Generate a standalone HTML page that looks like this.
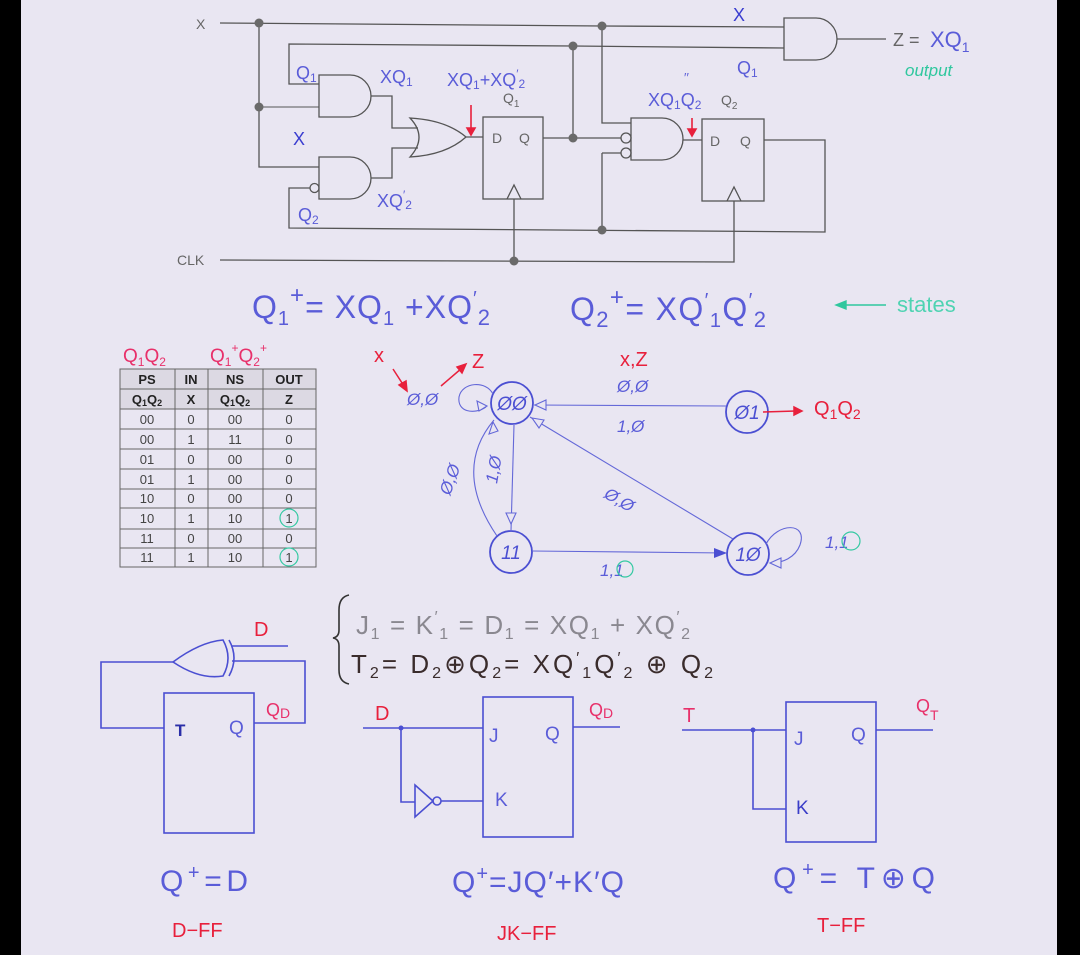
<!DOCTYPE html>
<html><head><meta charset="utf-8"><style>
html,body{margin:0;padding:0;background:#000;}
svg{display:block;}
text{font-family:"Liberation Sans",sans-serif;}
</style></head><body>
<svg width="1080" height="955" viewBox="0 0 1080 955" xmlns="http://www.w3.org/2000/svg">
<rect x="0" y="0" width="1080" height="955" fill="#000"/>
<rect x="21" y="0" width="1036" height="955" fill="#e9e6f2"/>

<!-- ===== TOP CIRCUIT ===== -->
<g fill="none" stroke="#555" stroke-width="1.3">
  <path d="M220 23 L602 26 L784 27"/>
  <path d="M259 23 V167 H319"/>
  <path d="M259 107 H319" stroke-width="0.9"/>
  <path d="M319 84 H289 V44 L573 46 L784 48"/>
  <path d="M319 75 H350 A21 21 0 0 1 350 117 H319 Z"/>
  <path d="M371 96 H392 V128 H418"/>
  <path d="M410 118 Q428 137 410 157 Q446 155 466 137 Q446 120 410 118 Z"/>
  <path d="M466 137 H483"/>
  <path d="M319 157 H350 A21 21 0 0 1 350 199 H319 Z"/>
  <circle cx="314.5" cy="188" r="4.5"/>
  <path d="M371 178 H392 V148 H418"/>
  <path d="M310 188 H289 V228 L825 232 V140 H764"/>
  <rect x="483" y="117" width="60" height="82"/>
  <path d="M507 199 L514 185 L521 199"/>
  <path d="M514 199 V261"/>
  <path d="M220 260 L734 262 V201"/>
  <path d="M543 138 H621"/>
  <path d="M573 46 V138"/>
  <path d="M602 26 V123 H631"/>
  <path d="M602 153 H621 M602 153 V230"/>
  <path d="M631 118 H662 A21 21 0 0 1 662 160 H631 Z"/>
  <circle cx="626" cy="138" r="5"/>
  <circle cx="626" cy="153" r="5"/>
  <path d="M683 140 H702"/>
  <rect x="702" y="119" width="62" height="82"/>
  <path d="M727 201 L734 187 L741 201"/>
  <path d="M784 18 H816 A21 21 0 0 1 816 60 H784 Z"/>
  <path d="M837 39 H886"/>
</g>
<g fill="#6a6a6a">
  <circle cx="259" cy="23" r="4.5"/>
  <circle cx="259" cy="107" r="4.5"/>
  <circle cx="602" cy="26" r="4.5"/>
  <circle cx="573" cy="46" r="4.5"/>
  <circle cx="573" cy="138" r="4.5"/>
  <circle cx="602" cy="230" r="4.5"/>
  <circle cx="514" cy="261" r="4.5"/>
</g>
<g fill="#666" font-size="14">
  <text x="196" y="29">X</text>
  <text x="177" y="265">CLK</text>
  <text x="492" y="143">D</text>
  <text x="519" y="143">Q</text>
  <text x="503" y="103">Q<tspan font-size="10" dy="4">1</tspan></text>
  <text x="710" y="146">D</text>
  <text x="740" y="146">Q</text>
  <text x="721" y="105">Q<tspan font-size="10" dy="4">2</tspan></text>
  <text x="893" y="46" font-size="18">Z =</text>
</g>
<g fill="#5a5cd8" font-size="18">
  <text x="296" y="79">Q<tspan font-size="12" dy="3">1</tspan></text>
  <text x="380" y="83">XQ<tspan font-size="12" dy="3">1</tspan></text>
  <text x="447" y="86">XQ<tspan font-size="12" dy="3">1</tspan><tspan dy="-3">+XQ</tspan><tspan font-size="12" dy="-8">′</tspan><tspan font-size="12" dy="10">2</tspan></text>
  <text x="293" y="145" fill="#3a3dd0">X</text>
  <text x="298" y="221">Q<tspan font-size="12" dy="3">2</tspan></text>
  <text x="377" y="207">XQ<tspan font-size="12" dy="-8">′</tspan><tspan font-size="12" dy="10">2</tspan></text>
  <text x="733" y="21" fill="#3a3dd0">X</text>
  <text x="737" y="74">Q<tspan font-size="12" dy="3">1</tspan></text>
  <text x="648" y="106">XQ<tspan font-size="12" dy="3">1</tspan><tspan dy="-3">Q</tspan><tspan font-size="12" dy="3">2</tspan></text>
  <text x="684" y="82" font-size="13">′′</text>
  <text x="930" y="47" font-size="22">XQ<tspan font-size="14" dy="5">1</tspan></text>
</g>
<text x="905" y="76" font-size="17" fill="#2fc79e" font-style="italic">output</text>
<g stroke="#e8203c" stroke-width="1.6" fill="#e8203c">
  <path d="M471 105 V130" fill="none"/><path d="M467 128 L471 135 L475 128 Z"/>
  <path d="M692 118 V131" fill="none"/><path d="M688 129 L692 136 L696 129 Z"/>
</g>

<!-- ===== EQUATIONS ===== -->
<g fill="#5a5cd8" font-size="32">
  <text x="252" y="318" textLength="238" lengthAdjust="spacing">Q<tspan font-size="20" dy="7">1</tspan><tspan font-size="24" dy="-22">+</tspan><tspan dy="15">= XQ</tspan><tspan font-size="20" dy="7">1</tspan><tspan dy="-7"> +XQ</tspan><tspan font-size="20" dy="-13">′</tspan><tspan font-size="22" dy="20">2</tspan></text>
  <text x="570" y="320" textLength="196" lengthAdjust="spacing">Q<tspan font-size="22" dy="7">2</tspan><tspan font-size="24" dy="-22">+</tspan><tspan dy="15">= XQ</tspan><tspan font-size="20" dy="-13">′</tspan><tspan font-size="20" dy="20">1</tspan><tspan dy="-7">Q</tspan><tspan font-size="20" dy="-13">′</tspan><tspan font-size="22" dy="20">2</tspan></text>
</g>
<g stroke="#2fc79e" stroke-width="1.4" fill="#2fc79e">
  <path d="M840 305 H886" fill="none"/><path d="M836 305 L846 301 L846 309 Z"/>
</g>
<text x="897" y="312" font-size="22" fill="#4fd3b2">states</text>

<!-- ===== TABLE ===== -->
<text x="123" y="362" font-size="19" fill="#e8306a">Q<tspan font-size="12" dy="4">1</tspan><tspan dy="-4">Q</tspan><tspan font-size="12" dy="4">2</tspan></text>
<text x="210" y="362" font-size="19" fill="#e8306a">Q<tspan font-size="12" dy="4">1</tspan><tspan font-size="12" dy="-14">+</tspan><tspan dy="10">Q</tspan><tspan font-size="12" dy="4">2</tspan><tspan font-size="12" dy="-14">+</tspan></text>
<rect x="120" y="369" width="196" height="40" fill="#dcd9e3"/>
<g stroke="#666" stroke-width="1" fill="none">
  <rect x="120" y="369" width="196" height="198"/>
  <path d="M175 369 V567 M208 369 V567 M263 369 V567"/>
  <path d="M120 389 H316 M120 409 H316 M120 429 H316 M120 449 H316 M120 469 H316 M120 489 H316 M120 508 H316 M120 529 H316 M120 548 H316"/>
</g>
<g font-size="13" font-weight="bold" fill="#222" text-anchor="middle">
  <text x="147" y="384">PS</text><text x="191" y="384">IN</text><text x="235" y="384">NS</text><text x="289" y="384">OUT</text>
  <text x="147" y="404">Q<tspan font-size="9" dy="2">1</tspan><tspan dy="-2">Q</tspan><tspan font-size="9" dy="2">2</tspan></text>
  <text x="191" y="404">X</text>
  <text x="235" y="404">Q<tspan font-size="9" dy="2">1</tspan><tspan dy="-2">Q</tspan><tspan font-size="9" dy="2">2</tspan></text>
  <text x="289" y="404">Z</text>
</g>
<g font-size="13" fill="#444" text-anchor="middle">
  <text x="147" y="424">00</text><text x="191" y="424">0</text><text x="235" y="424">00</text><text x="289" y="424">0</text>
  <text x="147" y="444">00</text><text x="191" y="444">1</text><text x="235" y="444">11</text><text x="289" y="444">0</text>
  <text x="147" y="464">01</text><text x="191" y="464">0</text><text x="235" y="464">00</text><text x="289" y="464">0</text>
  <text x="147" y="484">01</text><text x="191" y="484">1</text><text x="235" y="484">00</text><text x="289" y="484">0</text>
  <text x="147" y="503">10</text><text x="191" y="503">0</text><text x="235" y="503">00</text><text x="289" y="503">0</text>
  <text x="147" y="523">10</text><text x="191" y="523">1</text><text x="235" y="523">10</text><text x="289" y="523">1</text>
  <text x="147" y="543">11</text><text x="191" y="543">0</text><text x="235" y="543">00</text><text x="289" y="543">0</text>
  <text x="147" y="562">11</text><text x="191" y="562">1</text><text x="235" y="562">10</text><text x="289" y="562">1</text>
</g>
<g fill="none" stroke="#35c9a2" stroke-width="1.2">
  <circle cx="289" cy="518" r="9"/>
  <circle cx="289" cy="557" r="9"/>
</g>

<!-- ===== STATE DIAGRAM ===== -->
<g fill="none" stroke="#4b4fd2" stroke-width="1.8">
  <circle cx="512" cy="403" r="21"/>
  <circle cx="747" cy="412" r="21"/>
  <circle cx="511" cy="552" r="21"/>
  <circle cx="748" cy="554" r="21"/>
</g>
<g fill="none" stroke="#6468d8" stroke-width="1.1">
  <path d="M726 406 L534 405"/>
  <path d="M514 425 L511 531"/>
  <path d="M497 536 Q452 470 494 420"/>
  <path d="M733 539 L530 417"/>
  <path d="M532 551 L727 553"/>
  <path d="M766 544 C778 522 808 522 800 545 C795 558 782 563 771 563"/>
  <path d="M493 394 C486 380 462 382 459 397 C457 412 474 415 486 407"/>
</g>
<g fill="#e9e6f2" stroke="#6468d8" stroke-width="1.1">
  <path d="M535 405 L546 400 L546 410 Z"/>
  <path d="M511 524 L506 513 L516 513 Z"/>
  <path d="M493 422 L489 434 L498 431 Z"/>
  <path d="M532 418 L544 420 L539 428 Z"/>
  <path d="M770 563 L781 558 L781 568 Z"/>
  <path d="M487 406 L477 401 L479 411 Z"/>
</g>
<path d="M727 553 L714 548 L714 558 Z" fill="#4b4fd2"/>
<g fill="#4b4fd2" font-size="19" font-style="italic" text-anchor="middle">
  <text x="512" y="410">ØØ</text>
  <text x="747" y="419">Ø1</text>
  <text x="511" y="559">11</text>
  <text x="748" y="561">1Ø</text>
</g>
<g fill="#5a5cd8" font-size="17" font-style="italic">
  <text x="407" y="405">Ø,Ø</text>
  <text x="617" y="392">Ø,Ø</text>
  <text x="617" y="432">1,Ø</text>
  <text x="600" y="576">1,1</text>
  <text x="825" y="548">1,1</text>
  <text transform="translate(497,484) rotate(-80)">1,Ø</text>
  <text transform="translate(450,496) rotate(-70)">Ø,Ø</text>
  <text transform="translate(603,497) rotate(30)">Ø,Ø</text>
</g>
<g fill="none" stroke="#35c9a2" stroke-width="1.2">
  <circle cx="625" cy="569" r="8"/>
  <circle cx="851" cy="541" r="9"/>
</g>
<g fill="#e8203c" font-size="20">
  <text x="374" y="362">x</text>
  <text x="472" y="368">Z</text>
  <text x="620" y="366">x,Z</text>
  <text x="814" y="415">Q<tspan font-size="14" dy="4">1</tspan><tspan dy="-4">Q</tspan><tspan font-size="14" dy="4">2</tspan></text>
</g>
<g stroke="#e8203c" stroke-width="1.5" fill="#e8203c">
  <path d="M393 369 L404 386" fill="none"/><path d="M407 391 L399 385 L406 381 Z"/>
  <path d="M441 386 L462 368" fill="none"/><path d="M466 364 L462 373 L457 367 Z"/>
  <path d="M763 412 L796 411" fill="none"/><path d="M802 411 L794 407 L794 415 Z"/>
</g>

<!-- ===== BRACE EQUATIONS ===== -->
<path d="M349 595 Q339 597 339 610 V630 Q339 637 333 638 Q339 639 339 646 V670 Q339 682 349 684" fill="none" stroke="#333" stroke-width="1.6"/>
<text x="356" y="634" font-size="26" fill="#8a8890" textLength="334" lengthAdjust="spacing">J<tspan font-size="16" dy="5">1</tspan><tspan dy="-5"> = K</tspan><tspan font-size="16" dy="-12">′</tspan><tspan font-size="16" dy="17">1</tspan><tspan dy="-5"> = D</tspan><tspan font-size="16" dy="5">1</tspan><tspan dy="-5"> = XQ</tspan><tspan font-size="16" dy="5">1</tspan><tspan dy="-5"> + XQ</tspan><tspan font-size="16" dy="-12">′</tspan><tspan font-size="16" dy="17">2</tspan></text>
<text x="351" y="673" font-size="26" fill="#3a2c2c" textLength="362" lengthAdjust="spacing">T<tspan font-size="16" dy="5">2</tspan><tspan dy="-5">= D</tspan><tspan font-size="16" dy="5">2</tspan><tspan dy="-5">⊕Q</tspan><tspan font-size="16" dy="5">2</tspan><tspan dy="-5">= XQ</tspan><tspan font-size="16" dy="-10">′</tspan><tspan font-size="16" dy="15">1</tspan><tspan dy="-5">Q</tspan><tspan font-size="16" dy="-10">′</tspan><tspan font-size="16" dy="15">2</tspan><tspan dy="-5"> ⊕ Q</tspan><tspan font-size="16" dy="5">2</tspan></text>

<!-- ===== D-FF from T ===== -->
<g fill="none" stroke="#4b4fd2" stroke-width="1.6">
  <path d="M223 640 Q200 642 173 662 Q200 680 223 676 Q233 658 223 640 Z"/>
  <path d="M229 640 Q239 658 229 676"/>
  <path d="M232 646 H288"/>
  <path d="M232 661 H305 V723 H254"/>
  <path d="M173 662 H101 V728 H164"/>
  <rect x="164" y="693" width="90" height="140"/>
</g>
<text x="175" y="736" font-size="17" font-weight="bold" fill="#2a2ea8">T</text>
<text x="229" y="734" font-size="19" fill="#5a5cd8">Q</text>
<text x="254" y="636" font-size="20" fill="#e8203c">D</text>
<text x="266" y="716" font-size="18" fill="#e8306a">Q<tspan font-size="14" dy="2">D</tspan></text>
<text x="160" y="891" font-size="30" fill="#5a5cd8" textLength="88" lengthAdjust="spacing">Q<tspan font-size="20" dy="-12">+</tspan><tspan dy="12">=D</tspan></text>
<text x="172" y="937" font-size="20" fill="#e8203c">D−FF</text>

<!-- ===== D-FF from JK ===== -->
<g fill="none" stroke="#4b4fd2" stroke-width="1.6">
  <path d="M363 728 H483"/>
  <path d="M401 728 V802 H415"/>
  <path d="M415 785 L433 801 L415 817 Z"/>
  <circle cx="437" cy="801" r="4"/>
  <path d="M441 801 H483"/>
  <rect x="483" y="697" width="90" height="140"/>
  <path d="M573 727 H620"/>
</g>
<circle cx="401" cy="728" r="2.5" fill="#4b4fd2"/>
<text x="375" y="720" font-size="20" fill="#e8203c">D</text>
<text x="589" y="716" font-size="18" fill="#e8306a">Q<tspan font-size="14" dy="2">D</tspan></text>
<g fill="#5a5cd8" font-size="19">
  <text x="489" y="742">J</text>
  <text x="545" y="740">Q</text>
  <text x="495" y="806">K</text>
</g>
<text x="452" y="892" font-size="30" fill="#5a5cd8" textLength="172" lengthAdjust="spacing">Q<tspan font-size="20" dy="-12">+</tspan><tspan dy="12">=JQ′+K′Q</tspan></text>
<text x="497" y="940" font-size="20" fill="#e8203c">JK−FF</text>

<!-- ===== T-FF from JK ===== -->
<g fill="none" stroke="#4b4fd2" stroke-width="1.6">
  <path d="M682 730 H786"/>
  <path d="M753 730 V809 H786"/>
  <rect x="786" y="702" width="90" height="140"/>
  <path d="M876 730 H933"/>
</g>
<circle cx="753" cy="730" r="2.5" fill="#4b4fd2"/>
<text x="683" y="722" font-size="20" fill="#e8306a">T</text>
<text x="916" y="712" font-size="18" fill="#e8306a">Q<tspan font-size="14" dy="8">T</tspan></text>
<g fill="#5a5cd8" font-size="19">
  <text x="794" y="745">J</text>
  <text x="851" y="741">Q</text>
  <text x="796" y="814" fill="#3a3dc8">K</text>
</g>
<text x="773" y="888" font-size="30" fill="#5a5cd8" textLength="162" lengthAdjust="spacing">Q<tspan font-size="20" dy="-12">+</tspan><tspan dy="12">= T⊕Q</tspan></text>
<text x="817" y="932" font-size="20" fill="#e8203c">T−FF</text>
</svg>
</body></html>
